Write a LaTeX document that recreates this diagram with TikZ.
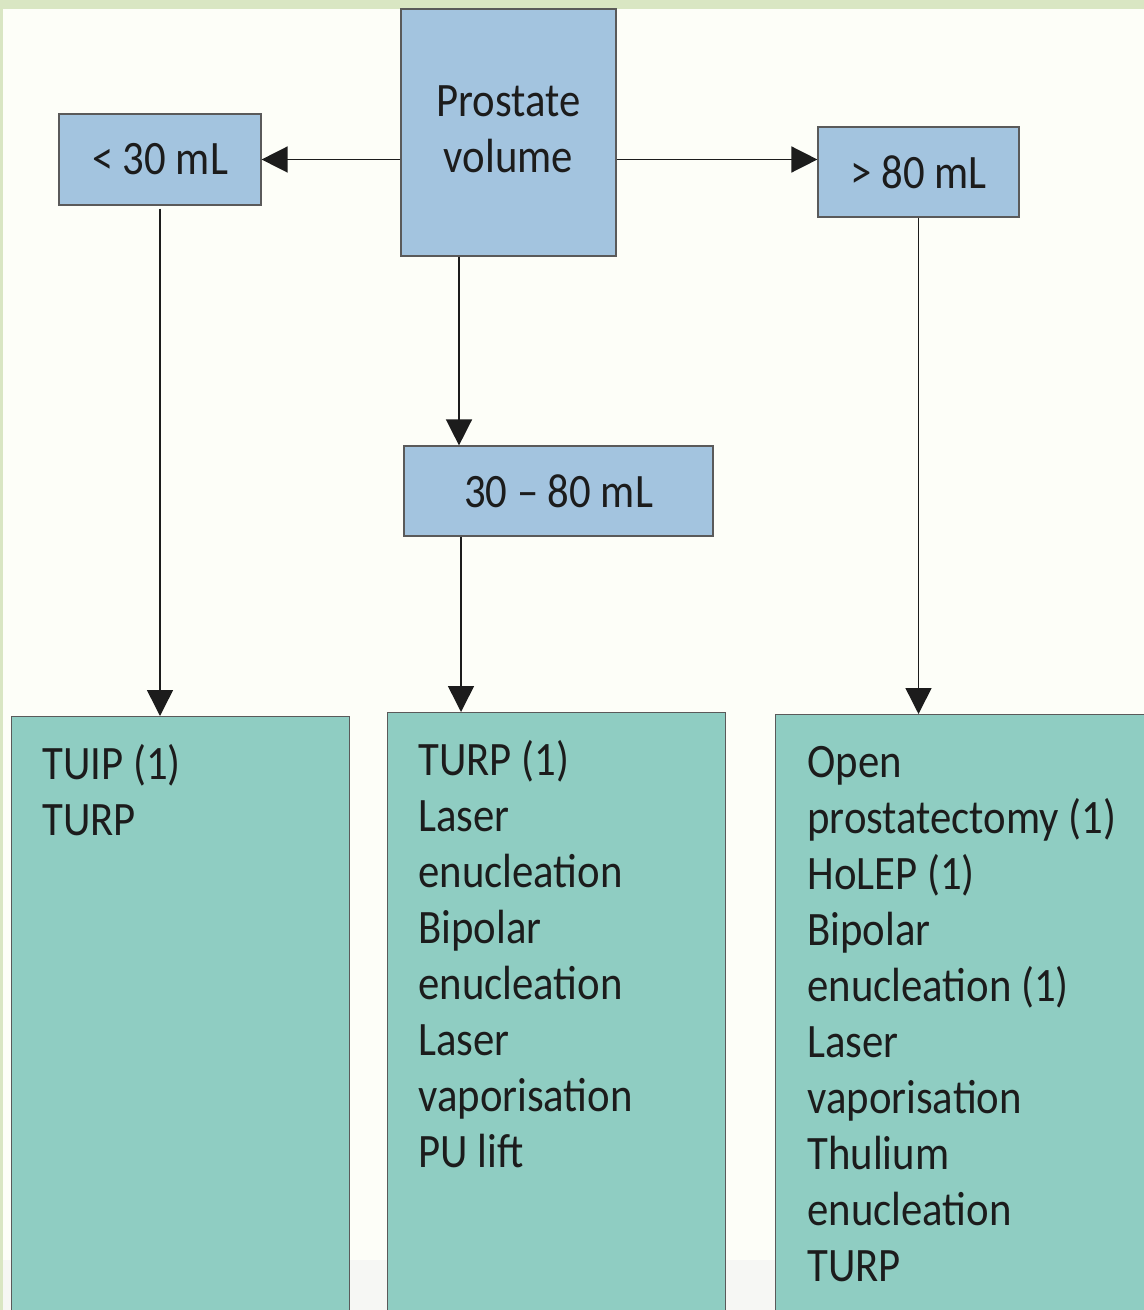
\documentclass[tikz,border=0pt]{standalone}
\usepackage{fontspec}
\setmainfont{Carlito}[FakeStretch=0.89]
\usetikzlibrary{arrows.meta}
\definecolor{bandgreen}{HTML}{D9E6C3}
\definecolor{paper}{HTML}{FDFEF8}
\definecolor{paperlow}{HTML}{F6F7F4}
\definecolor{boxblue}{HTML}{A3C4DF}
\definecolor{boxteal}{HTML}{8FCDC2}
\definecolor{edgegray}{HTML}{5A5A5A}
\definecolor{inkdark}{HTML}{1C1C1C}
\tikzset{
  volbox/.style={draw=edgegray, line width=0.6pt, fill=boxblue, text=inkdark,
    font=\fontsize{24}{28}\selectfont, align=center, inner sep=0pt},
  listbox/.style={draw=edgegray, line width=0.6pt, fill=boxteal, anchor=north west,
    minimum width=169pt, minimum height=320pt, inner sep=0pt},
  listtext/.style={anchor=north west, text=inkdark, font=\fontsize{24}{28}\selectfont,
    align=left, inner sep=0pt},
  flow/.style={draw=inkdark, line width=0.75pt, -{Triangle[length=13pt,width=13pt]}}
}
\begin{document}
\begin{tikzpicture}[x=0.5pt,y=-0.5pt]
  \useasboundingbox (0,0) rectangle (1144,1310);
  \clip (0,0) rectangle (1144,1310);
  % page
  \fill [paper] (0,0) rectangle (1144,1310);
  \fill [paperlow] (0,1260) rectangle (1144,1310);
  \fill [bandgreen] (0,0) rectangle (1144,9);
  \fill [bandgreen] (0,0) rectangle (3,1310);

  % volume boxes
  \node [volbox, minimum width=107.5pt, minimum height=123.5pt] (prostate) at (508.5,132.5) {\raisebox{3pt}{Prostate}\\\raisebox{3pt}{volume}};
  \node [volbox, minimum width=101pt, minimum height=45.5pt] (small) at (160,159.5) {< 30 mL};
  \node [volbox, minimum width=100.5pt, minimum height=45pt] (large) at (918.5,172) {> 80 mL};
  \node [volbox, minimum width=154.5pt, minimum height=45pt] (medium) at (558.5,491) {30 – 80 mL};

  % treatment boxes
  \node [listbox] (smalllist) at (11,716) {};
  \node [listbox] (mediumlist) at (387,712) {};
  \node [listbox, minimum width=200pt] (largelist) at (775,714) {};
  \node [listtext] (smalltext) at ([xshift=15.5pt,yshift=-14pt]smalllist.north west) {TUIP (1)\\TURP};
  \node [listtext] (mediumtext) at ([xshift=15.5pt,yshift=-14pt]mediumlist.north west)
    {TURP (1)\\Laser\\enucleation\\Bipolar\\enucleation\\Laser\\vaporisation\\PU lift};
  \node [listtext] (largetext) at ([xshift=16pt,yshift=-16pt]largelist.north west)
    {Open\\prostatectomy (1)\\HoLEP (1)\\Bipolar\\enucleation (1)\\Laser\\vaporisation\\Thulium\\enucleation\\TURP};

  % arrows
  \draw [flow] (prostate.west |- small.east) -- (small.east);
  \draw [flow] (prostate.east |- small.east) -- (large.west |- small.east);
  \draw [flow] ([xshift=-24.75pt]prostate.south) -- ([xshift=-24.75pt]prostate.south |- medium.north);
  \draw [flow] ([yshift=-1.5pt]small.south) -- (small.south |- smalllist.north);
  \draw [flow] ([xshift=-48.75pt]medium.south) -- ([xshift=-48.75pt]medium.south |- mediumlist.north);
  \draw [flow] (large.south) -- (large.south |- largelist.north);
\end{tikzpicture}
\end{document}
